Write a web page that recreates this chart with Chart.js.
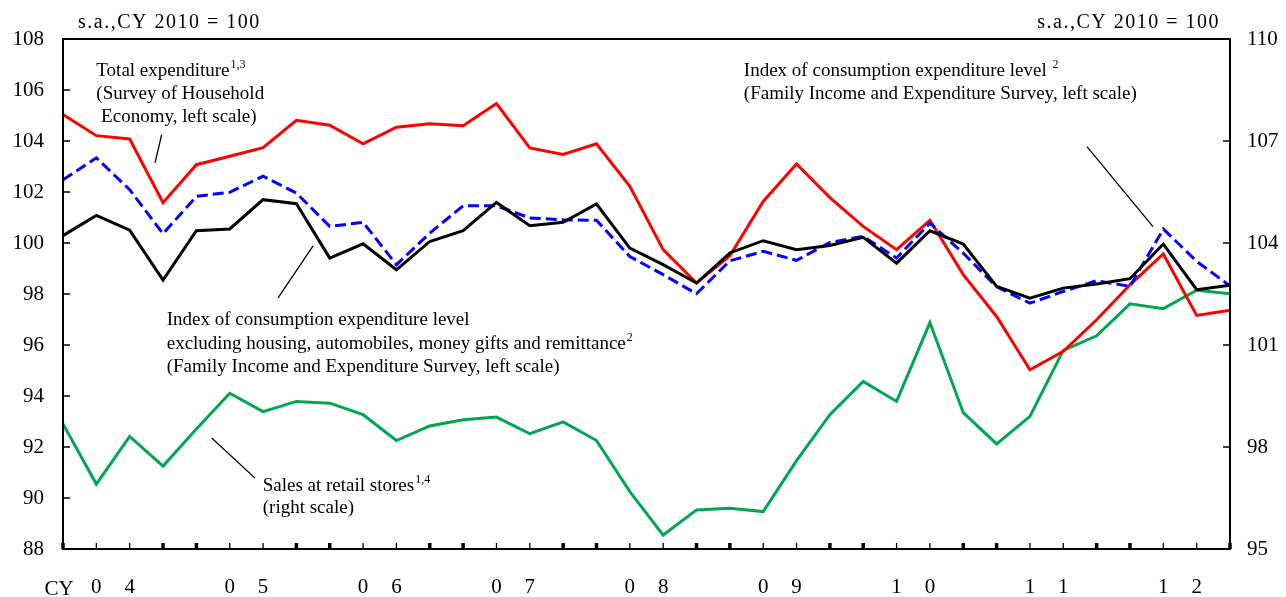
<!DOCTYPE html>
<html><head><meta charset="utf-8">
<script src="https://cdn.jsdelivr.net/npm/chart.js@4.4.0/dist/chart.umd.min.js"></script>
<style>html,body{margin:0;padding:0;background:#fff;}</style>
</head><body>
<canvas id="c" width="1286" height="597"></canvas>
<script>
// ---- data (quarterly, 2004Q1 .. 2012Q4) ----
const years = ['04','05','06','07','08','09','10','11','12'];
const totalExpenditure = [105.04,104.21,104.08,101.58,103.07,103.4,103.74,104.81,104.62,103.89,104.54,104.68,104.6,105.47,103.73,103.47,103.89,102.22,99.74,98.43,99.5,101.63,103.1,101.78,100.65,99.74,100.89,98.76,97.12,95.03,95.75,96.99,98.36,99.57,97.16,97.36];
const consExcluding = [100.29,101.08,100.5,98.55,100.48,100.55,101.7,101.54,99.41,99.97,98.95,100.06,100.48,101.59,100.68,100.81,101.53,99.8,99.15,98.43,99.61,100.09,99.74,99.9,100.22,99.21,100.48,99.96,98.3,97.84,98.23,98.39,98.6,99.96,98.17,98.34];
const consLevel = [102.48,103.34,102.09,100.36,101.83,101.99,102.62,101.96,100.65,100.81,99.15,100.39,101.46,101.46,100.98,100.91,100.89,99.47,98.76,98.01,99.3,99.67,99.32,100.02,100.26,99.41,100.78,99.6,98.28,97.64,98.1,98.52,98.3,100.55,99.28,98.32];
const retailSales = [98.68,96.91,98.31,97.44,98.53,99.58,99.04,99.34,99.29,98.95,98.19,98.62,98.8,98.88,98.39,98.74,98.19,96.69,95.41,96.15,96.2,96.1,97.6,98.95,99.93,99.34,101.66,99.01,98.09,98.9,100.84,101.27,102.21,102.07,102.61,102.51];
const leftTitle = 's.a.,CY 2010 = 100';
const rightTitle = 's.a.,CY 2010 = 100';
const axisPrefix = 'CY';

const FONT = '"Liberation Serif", "Times New Roman", serif';
const nQ = totalExpenditure.length;
const pts = arr => arr.map((v, i) => ({x: i, y: v}));

// annotation texts: [main, superscript]
const noteTotal = [['Total expenditure', '1,3'], ['(Survey of Household', ''], [' Economy, left scale)', '']];
const noteLevel = [['Index of consumption expenditure level ', '2'], ['(Family Income and Expenditure Survey, left scale)', '']];
const noteExcl = [['Index of consumption expenditure level', ''], ['excluding housing, automobiles, money gifts and remittance', '2'], ['(Family Income and Expenditure Survey, left scale)', '']];
const noteRetail = [['Sales at retail stores', '1,4'], ['(right scale)', '']];

// placement in data coordinates (x = quarter index, y = left-scale value)
const notes = [
  {lines: noteTotal, x: 1.0, y: 106.53, lh: 23, line: [2.96, 104.25, 2.76, 103.14]},
  {lines: noteLevel, x: 20.42, y: 106.53, lh: 23, line: [30.71, 103.78, 32.69, 100.64]},
  {lines: noteExcl, x: 3.11, y: 96.79, lh: 23.7, line: [7.5, 99.89, 6.45, 97.85]},
  {lines: noteRetail, x: 5.99, y: 90.29, lh: 22.5, line: [4.46, 92.35, 5.76, 90.78]}
];

const overlay = {
  id: 'overlay',
  afterDatasetsDraw(chart) {
    const {ctx, chartArea: a, scales} = chart;
    const x = scales.x, yL = scales.yL, yR = scales.yR;
    ctx.save();
    ctx.strokeStyle = '#000';
    ctx.fillStyle = '#000';
    ctx.lineWidth = 2;
    ctx.strokeRect(a.left, a.top, a.right - a.left, a.bottom - a.top);
    // inward x ticks
    for (let i = 0; i < nQ; i++) {
      const px = x.getPixelForValue(i);
      const bold = (i % 4 === 0 || i % 4 === 3);
      ctx.lineWidth = bold ? 3.5 : 1.3;
      ctx.beginPath(); ctx.moveTo(px, a.bottom); ctx.lineTo(px, a.bottom - 6); ctx.stroke();
    }
    ctx.lineWidth = 1.5;
    yL.ticks.forEach(t => {
      const py = yL.getPixelForValue(t.value);
      ctx.beginPath(); ctx.moveTo(a.left, py); ctx.lineTo(a.left + 7, py); ctx.stroke();
    });
    yR.ticks.forEach(t => {
      const py = yR.getPixelForValue(t.value);
      ctx.beginPath(); ctx.moveTo(a.right, py); ctx.lineTo(a.right - 7, py); ctx.stroke();
    });
    // header texts
    ctx.font = '20px ' + FONT;
    ctx.textBaseline = 'alphabetic';
    ctx.letterSpacing = '1.5px';
    ctx.textAlign = 'left';
    ctx.fillText(leftTitle, a.left + 15, a.top - 11);
    ctx.textAlign = 'right';
    ctx.fillText(rightTitle, a.right - 10, a.top - 11);
    ctx.letterSpacing = '0px';
    ctx.textAlign = 'center';
    ctx.font = '21px ' + FONT;
    ctx.fillText(axisPrefix, a.left - 4, a.bottom + 46);
    // annotations
    ctx.textAlign = 'left';
    notes.forEach(n => {
      const x0 = x.getPixelForValue(n.x);
      const y0 = yL.getPixelForValue(n.y);
      n.lines.forEach((ln, k) => {
        const yy = y0 + k * n.lh;
        ctx.font = '19px ' + FONT;
        ctx.fillText(ln[0], x0, yy);
        if (ln[1]) {
          const w = ctx.measureText(ln[0]).width;
          ctx.font = '12px ' + FONT;
          ctx.fillText(ln[1], x0 + w + 1, yy - 8);
        }
      });
      ctx.lineWidth = 1.3;
      ctx.beginPath();
      ctx.moveTo(x.getPixelForValue(n.line[0]), yL.getPixelForValue(n.line[1]));
      ctx.lineTo(x.getPixelForValue(n.line[2]), yL.getPixelForValue(n.line[3]));
      ctx.stroke();
    });
    ctx.restore();
  }
};

const lineDs = (data, color, axis, extra) => Object.assign({
  data: pts(data), borderColor: color, backgroundColor: color, borderWidth: 3,
  pointRadius: 0, tension: 0, yAxisID: axis, fill: false, borderJoinStyle: 'miter'
}, extra || {});

new Chart(document.getElementById('c'), {
  type: 'line',
  data: {
    datasets: [
      lineDs(consExcluding, '#000000', 'yL'),
      lineDs(consLevel, '#0000FF', 'yL', {borderDash: [11, 5]}),
      lineDs(totalExpenditure, '#FF0000', 'yL'),
      lineDs(retailSales, '#00A651', 'yR')
    ]
  },
  options: {
    responsive: false,
    animation: false,
    devicePixelRatio: 1,
    layout: {padding: {top: 39, left: 0, right: 0, bottom: 0}},
    plugins: {legend: {display: false}, tooltip: {enabled: false}},
    scales: {
      x: {
        type: 'linear', min: 0, max: nQ - 1,
        grid: {display: false, drawTicks: false}, border: {display: false},
        afterBuildTicks: s => { s.ticks = Array.from({length: nQ}, (_, i) => ({value: i})); },
        afterFit: s => { s.height = 48; },
        ticks: {
          autoSkip: false, maxRotation: 0, padding: 26, color: '#000',
          font: {family: FONT, size: 21},
          callback: v => {
            const q = v % 4, y = years[Math.floor(v / 4)];
            if (q === 1) return y[0];
            if (q === 2) return y[1];
            return '';
          }
        }
      },
      yL: {
        position: 'left', min: 88, max: 108,
        grid: {display: false, drawTicks: false}, border: {display: false},
        afterFit: s => { s.width = 63; },
        ticks: {stepSize: 2, padding: 19, color: '#000', font: {family: FONT, size: 21}}
      },
      yR: {
        position: 'right', min: 95, max: 110,
        grid: {display: false, drawTicks: false}, border: {display: false},
        afterFit: s => { s.width = 56; },
        ticks: {stepSize: 3, padding: 17, color: '#000', font: {family: FONT, size: 21}}
      }
    }
  },
  plugins: [overlay]
});
</script>
</body></html>
